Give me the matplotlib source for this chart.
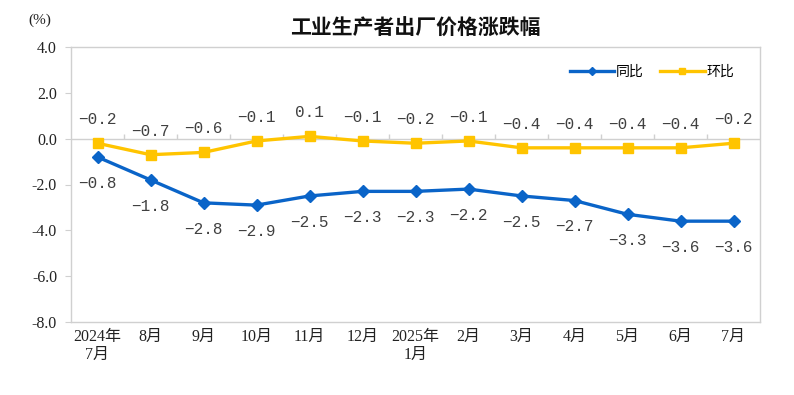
import numpy as np
import matplotlib
matplotlib.use("Agg")
import matplotlib.pyplot as plt

# data
months = ["2024年\n7月", "8月", "9月", "10月", "11月", "12月", "2025年\n1月",
          "2月", "3月", "4月", "5月", "6月", "7月"]
yoy = [-0.8, -1.8, -2.8, -2.9, -2.5, -2.3, -2.3, -2.2, -2.5, -2.7, -3.3, -3.6, -3.6]
mom = [-0.2, -0.7, -0.6, -0.1, 0.1, -0.1, -0.2, -0.1, -0.4, -0.4, -0.4, -0.4, -0.2]
yticks = [4.0, 2.0, 0.0, -2.0, -4.0, -6.0, -8.0]

blue = "#0A64C8"
yellow = "#FFC400"
grid_c = "#D0D0D0"
cjk = ["Liberation Serif", "Noto Sans CJK SC"]

fig = plt.figure(figsize=(7.94, 3.95), dpi=100)
ax = fig.add_axes([71/794, 1-322/395, (760-71)/794, (322-47)/395])

x = np.arange(len(months))

# category axis crossing at zero, small upward ticks between categories
ax.axhline(0, color=grid_c, lw=1.0, zorder=1)
ax.vlines(np.arange(1, len(months)) - 0.5, 0, 0.2, color=grid_c, lw=1.0, zorder=1)

ax.plot(x, yoy, color=blue, lw=2.4, marker="D", ms=6.5, label="同比", zorder=3)
ax.plot(x, mom, color=yellow, lw=2.4, marker="s", ms=6.5, label="环比", zorder=3)

for xi, v in zip(x, yoy):
    ax.annotate(f"{v:.1f}".replace("-", "\u2212"),
                (xi, v), xytext=(0, -19), textcoords="offset points",
                ha="center", va="center", fontsize=11.5,
                family="Liberation Mono", color="#404040")
for xi, v in zip(x, mom):
    ax.annotate(f"{v:.1f}".replace("-", "\u2212"),
                (xi, v), xytext=(0, 17), textcoords="offset points",
                ha="center", va="center", fontsize=11.5,
                family="Liberation Mono", color="#404040")

ax.set_xlim(-0.5, len(months) - 0.5)
ax.set_ylim(-8, 4)
ax.set_yticks(yticks)
ax.set_yticklabels([f"{v:.1f}" for v in yticks], family="Liberation Serif",
                   fontsize=11.5, color="#222222")
ax.tick_params(axis="y", length=4, color=grid_c, pad=6)
ax.set_xticks(x)
ax.set_xticklabels(months, family=cjk, fontsize=11.5, color="#222222",
                   linespacing=1.2)
ax.tick_params(axis="x", length=0, pad=5)
for s in ax.spines.values():
    s.set_color(grid_c)
    s.set_linewidth(1.0)

ax.set_title("工业生产者出厂价格涨跌幅", family="Noto Sans CJK SC",
             fontsize=15, fontweight="bold", pad=9, color="#111111")
fig.text(40/794, 1-20/395, "(%)", family="Liberation Serif", fontsize=11,
         ha="center", va="center", color="#222222")

leg = ax.legend(loc="upper right", bbox_to_anchor=(0.98, 0.98), ncol=2,
                frameon=False, prop={"family": "Noto Sans CJK SC", "size": 10},
                handlelength=3.2, handletextpad=0.1, columnspacing=1.2,
                markerscale=0.6)

fig.savefig("out.png", dpi=100)
